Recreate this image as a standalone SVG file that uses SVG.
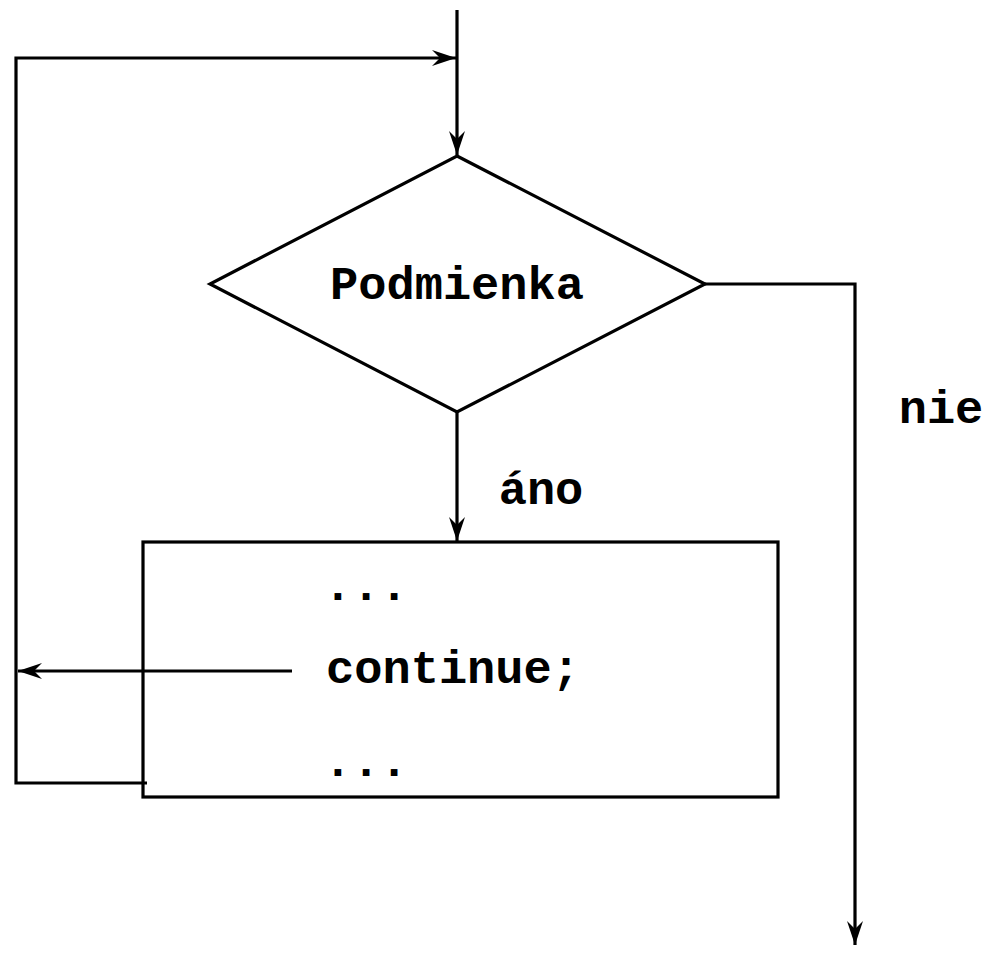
<svg xmlns="http://www.w3.org/2000/svg" width="994" height="956" viewBox="0 0 994 956">
<style>
.ln{fill:none;stroke:#000;stroke-width:3.2}
.sh{fill:#fff;stroke:#000;stroke-width:3.2}
.t{font-family:"Liberation Mono","Courier New",monospace;font-weight:bold;font-size:47px;fill:#000}
</style>
<defs>
<marker id="ah" viewBox="-25 -9 27 18" refX="0" refY="0" markerWidth="27" markerHeight="18" markerUnits="userSpaceOnUse" orient="auto">
<path d="M0,0 L-24,-8 L-16,0 L-24,8 Z" fill="#000"/>
</marker>
</defs>
<rect width="994" height="956" fill="#fff"/>
<g id="cond">
<polygon class="sh" points="457,156 705,284 457,412 210,284"/>
<text class="t" x="457" y="299" text-anchor="middle">Podmienka</text>
</g>
<g id="body">
<rect class="sh" x="143" y="542" width="635" height="255"/>
<text class="t" x="366" y="600" text-anchor="middle">...</text>
<text class="t" x="453" y="683" text-anchor="middle">continue;</text>
<text class="t" x="366" y="776" text-anchor="middle">...</text>
</g>
<g id="connectors">
<line class="ln" x1="457" y1="10" x2="457" y2="155" marker-end="url(#ah)"/>
<polyline class="ln" points="147,783 16,783 16,58 456,58" marker-end="url(#ah)"/>
<line class="ln" x1="457" y1="412" x2="457" y2="541" marker-end="url(#ah)"/>
<polyline class="ln" points="705,284 855,284 855,945" marker-end="url(#ah)"/>
<line class="ln" x1="292" y1="671" x2="18" y2="671" marker-end="url(#ah)"/>
</g>
<g id="labels">
<text class="t" x="541" y="504" text-anchor="middle">áno</text>
<text class="t" x="941" y="423" text-anchor="middle">nie</text>
</g>
</svg>
